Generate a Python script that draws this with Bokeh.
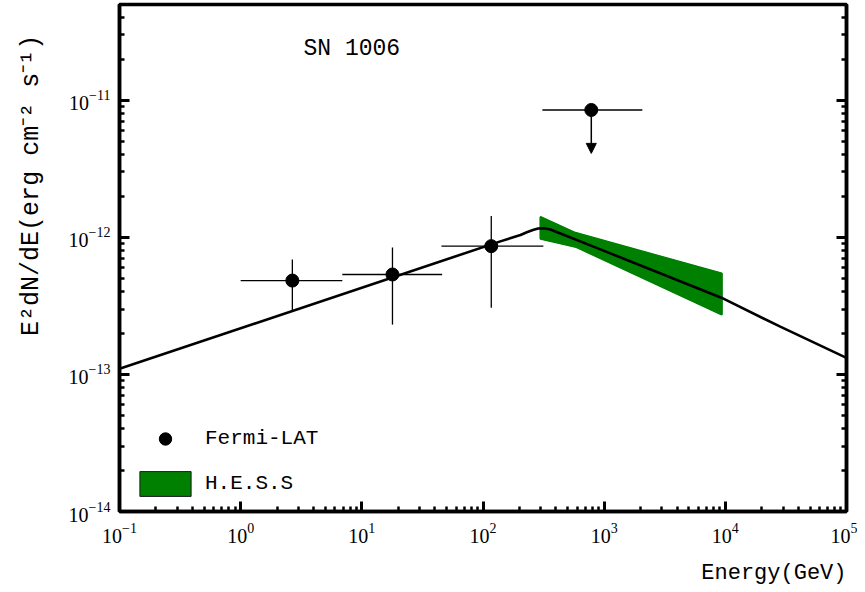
import numpy as np
from bokeh.plotting import figure
from bokeh.layouts import row, column
from bokeh.models import (FixedTicker, LogAxis, CustomJSTickFormatter, Legend, LegendItem,
                          Label, Arrow, NormalHead, Range1d, ColumnDataSource)
from bokeh.embed import file_html
from bokeh.resources import INLINE

# ---------------- data ----------------
# Fermi-LAT points (GeV, erg cm^-2 s^-1)
fermi_e = [2.67, 17.9, 117.0]
fermi_e_lo = [1.0, 6.9, 45.4]
fermi_e_hi = [6.9, 46.0, 315.0]
fermi_f = [4.84e-13, 5.36e-13, 8.63e-13]
fermi_f_lo = [2.87e-13, 2.31e-13, 3.07e-13]
fermi_f_hi = [6.9e-13, 8.45e-13, 1.43e-12]

# Fermi-LAT upper limit
ul_e = [783.0]
ul_e_lo = [309.0]
ul_e_hi = [2065.0]
ul_f = [8.5e-12]
ul_arrow_to = [4.1e-12]

# model curve
model_e = [0.1, 139.0, 204.0, 230.0, 258.0, 285.0, 320.0, 360.0, 420.0, 931.0, 9270.0, 28400.0, 1.0e5]
model_f = [1.10e-13, 9.35e-13, 1.04e-12, 1.09e-12, 1.13e-12, 1.16e-12, 1.165e-12, 1.14e-12, 1.08e-12,
           8.17e-13, 3.63e-13, 2.23e-13, 1.32e-13]

# H.E.S.S butterfly
hess_upper_e = [298.0, 578.0, 9350.0]
hess_upper_f = [1.41e-12, 1.08e-12, 5.45e-13]
hess_lower_e = [298.0, 590.0, 9350.0]
hess_lower_f = [9.78e-13, 8.49e-13, 2.73e-13]

# axes
x_start, x_end = 0.1, 1.0e5
y_start, y_end = 1.0e-14, 5.0e-11
x_major = [0.1, 1.0, 10.0, 100.0, 1000.0, 1.0e4, 1.0e5]
y_major = [1e-14, 1e-13, 1e-12, 1e-11]
x_minor = [k * 10.0 ** n for n in range(-1, 5) for k in range(2, 10)]
y_minor = [k * 10.0 ** n for n in range(-14, -10) for k in range(2, 10) if k * 10.0 ** n <= y_end]

title_text = "SN 1006"
xlabel = "Energy(GeV)"
ylabel = "E\u00b2dN/dE(erg cm\u207b\u00b2 s\u207b\u00b9)"
legend_labels = ["Fermi-LAT", "H.E.S.S"]

HESS_GREEN = "#008000"
MONO = "Liberation Mono"
SERIF = "Liberation Serif"

LABEL_W = 60          # width of the y-label strip
MAIN_BOTTOM = 44      # space under the frame for the tick labels
MAIN_H = 4 + 507 + MAIN_BOTTOM
XLAB_H = 34           # height of the x-label strip
MAIN_W = (119 - LABEL_W) + 727 + 11

# ---------------- main figure ----------------
p = figure(x_axis_type="log", y_axis_type="log",
           x_range=Range1d(x_start, x_end), y_range=Range1d(y_start, y_end),
           frame_width=727, frame_height=507,
           min_border_left=119 - LABEL_W, min_border_right=11, min_border_top=4,
           min_border_bottom=MAIN_BOTTOM,
           output_backend="svg", toolbar_location=None,
           background_fill_color="white", border_fill_color="white")
p.xgrid.visible = False
p.ygrid.visible = False
p.outline_line_color = "black"
p.outline_line_width = 3.5


def style_axis(ax):
    ax.axis_line_color = "black"
    ax.axis_line_width = 3.5
    ax.major_tick_in = 10
    ax.major_tick_out = 0
    ax.minor_tick_in = 5
    ax.minor_tick_out = 0
    ax.major_tick_line_width = 3
    ax.minor_tick_line_width = 2.5
    ax.major_tick_line_color = "black"
    ax.minor_tick_line_color = "black"
    ax.major_label_text_font = SERIF
    ax.major_label_text_font_size = "20px"
    ax.major_label_text_color = "black"


xa = p.xaxis[0]
xa.ticker = FixedTicker(ticks=x_major, minor_ticks=x_minor)
style_axis(xa)
xa.major_label_standoff = 11

ya = p.yaxis[0]
ya.ticker = FixedTicker(ticks=y_major, minor_ticks=y_minor)
style_axis(ya)
ya.major_label_standoff = 9

ra = LogAxis(ticker=FixedTicker(ticks=y_major, minor_ticks=y_minor),
             formatter=CustomJSTickFormatter(code="return ''"))
style_axis(ra)
ra.major_label_text_color = None
ra.major_label_standoff = 0
p.add_layout(ra, "right")

# ---------------- marks ----------------
band_x = hess_upper_e + hess_lower_e[::-1]
band_y = hess_upper_f + hess_lower_f[::-1]
# legend proxy underneath the band (gives the legend swatch its dark edge)
proxy = p.patch(x=band_x, y=band_y, fill_color=HESS_GREEN, line_color="#1a1a1a", line_width=1)
p.patch(x=band_x, y=band_y, fill_color=HESS_GREEN, line_color=HESS_GREEN, line_width=2)

p.line(x=model_e, y=model_f, line_color="black", line_width=2.6)

src = ColumnDataSource(dict(e=fermi_e, elo=fermi_e_lo, ehi=fermi_e_hi,
                            f=fermi_f, flo=fermi_f_lo, fhi=fermi_f_hi))
p.segment(x0="elo", y0="f", x1="ehi", y1="f", source=src, line_color="black", line_width=1.3)
p.segment(x0="e", y0="flo", x1="e", y1="fhi", source=src, line_color="black", line_width=1.3)
fermi_r = p.scatter(x="e", y="f", source=src, marker="circle", size=13,
                    fill_color="black", line_color="black")

usrc = ColumnDataSource(dict(e=ul_e, elo=ul_e_lo, ehi=ul_e_hi, f=ul_f))
p.segment(x0="elo", y0="f", x1="ehi", y1="f", source=usrc, line_color="black", line_width=1.3)
p.scatter(x="e", y="f", source=usrc, marker="circle", size=13, fill_color="black", line_color="black")
for e, f, t in zip(ul_e, ul_f, ul_arrow_to):
    p.add_layout(Arrow(end=NormalHead(size=10, fill_color="black", line_color="black", line_width=1),
                       x_start=e, y_start=f, x_end=e, y_end=t,
                       line_color="black", line_width=1.5))

legend = Legend(items=[LegendItem(label=legend_labels[0], renderers=[fermi_r]),
                       LegendItem(label=legend_labels[1], renderers=[proxy])],
                location=(14, 12), orientation="vertical",
                glyph_width=64, glyph_height=31, label_standoff=8, spacing=14,
                padding=0, margin=0, border_line_color=None, background_fill_alpha=0,
                label_text_font=MONO, label_text_font_size="21px", label_text_color="black")
p.add_layout(legend)

p.add_layout(Label(x=3.3, y=2.38e-11, text=title_text, text_font=MONO, text_font_size="23px",
                   text_align="left", text_baseline="middle", text_color="black"))


def strip(w, h):
    f = figure(width=w, height=h, x_range=Range1d(0, w), y_range=Range1d(0, h),
               x_axis_location=None, y_axis_location=None, min_border=0,
               output_backend="svg", toolbar_location=None,
               background_fill_color="white", border_fill_color="white")
    f.outline_line_color = None
    f.xgrid.visible = False
    f.ygrid.visible = False
    return f


# ---------------- y label strip (left of the main figure) ----------------
lf = strip(LABEL_W, MAIN_H)
lf.add_layout(Label(x=31, y=MAIN_H - 198, text=ylabel, angle=90, angle_units="deg",
                    text_font=MONO, text_font_size="25px",
                    text_align="center", text_baseline="middle", text_color="black"))

# ---------------- x label strip (under the main figure) ----------------
bf = strip(LABEL_W + MAIN_W, XLAB_H)
bf.add_layout(Label(x=846, y=XLAB_H - (573 - MAIN_H), text=xlabel,
                    text_font=MONO, text_font_size="22px",
                    text_align="right", text_baseline="middle", text_color="black"))

layout = column(row(lf, p, spacing=0), bf, spacing=0)
open("out.html", "w").write(file_html(layout, INLINE))
